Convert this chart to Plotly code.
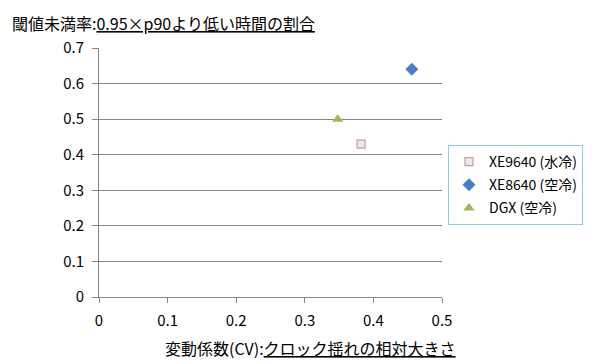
import plotly.graph_objects as go

series_names = ["XE9640 (水冷)", "XE8640 (空冷)", "DGX (空冷)"]
cv_values = [0.382, 0.456, 0.348]
below_rate = [0.430, 0.640, 0.500]

x_ticks = [0, 0.1, 0.2, 0.3, 0.4, 0.5]
y_ticks = [0, 0.1, 0.2, 0.3, 0.4, 0.5, 0.6, 0.7]

FONT = "Noto Sans CJK JP, Noto Sans, sans-serif"

styles = [
    dict(symbol="square", size=8, color="#DBEEF4", line=dict(color="#D99694", width=1.2)),
    dict(symbol="diamond", size=10, color="#4A7EC6", line=dict(color="#4A7EC6", width=0)),
    dict(symbol="triangle-up", size=10, color="#9BBB59", line=dict(color="#9BBB59", width=0)),
]

fig = go.Figure()
for i, name in enumerate(series_names):
    fig.add_trace(go.Scatter(
        x=[cv_values[i]], y=[below_rate[i]], mode="markers", name=name,
        legendgroup=f"g{i}", marker=styles[i],
    ))

axis_color = "#868686"
W, H = 592, 356
L, T = 91, 40
PW, PH = 343, 249
fig.update_layout(
    width=W, height=H,
    margin=dict(l=L, r=W - L - PW, t=T, b=H - T - PH, autoexpand=False),
    paper_bgcolor="white", plot_bgcolor="white",
    font=dict(family=FONT, size=15, color="#000000"),
    showlegend=True,
    legend=dict(
        xref="container", yref="container",
        x=(448 - 8) / W, y=1 - (145 - 8) / H, xanchor="left", yanchor="top",
        bordercolor="#92CDDC", borderwidth=1,
        font=dict(family=FONT, size=14),
        tracegroupgap=2,
        bgcolor="white",
    ),
    xaxis=dict(
        range=[0, 0.5], tickvals=x_ticks, ticktext=[f"{v:g}" for v in x_ticks],
        showgrid=False, zeroline=False, showline=True, linecolor=axis_color, linewidth=1,
        ticks="outside", ticklen=5, tickcolor=axis_color, ticklabelstandoff=5,
        tickfont=dict(size=15),
    ),
    yaxis=dict(
        range=[0, 0.7], tickvals=y_ticks, ticktext=[f"{v:g}" for v in y_ticks],
        showgrid=True, gridcolor=axis_color, gridwidth=1,
        zeroline=False, showline=True, linecolor=axis_color, linewidth=1,
        ticks="outside", ticklen=6, tickcolor=axis_color, ticklabelstandoff=5,
        tickfont=dict(size=15),
    ),
    annotations=[
        dict(text="閾値未満率:<u>0.95×p90より低い時間の割合</u>",
             xref="paper", yref="paper", x=(-L + 2) / PW, y=1 + (T - 1) / PH,
             xanchor="left", yanchor="top", showarrow=False,
             font=dict(family=FONT, size=16)),
        dict(text="変動係数(CV):<u>クロック揺れの相対大きさ</u>",
             xref="paper", yref="paper", x=(458 - 99) / PW, y=-(348 - 297) / PH,
             xanchor="right", yanchor="middle", showarrow=False,
             font=dict(family=FONT, size=16)),
    ],
)

fig.write_html("out.html")
